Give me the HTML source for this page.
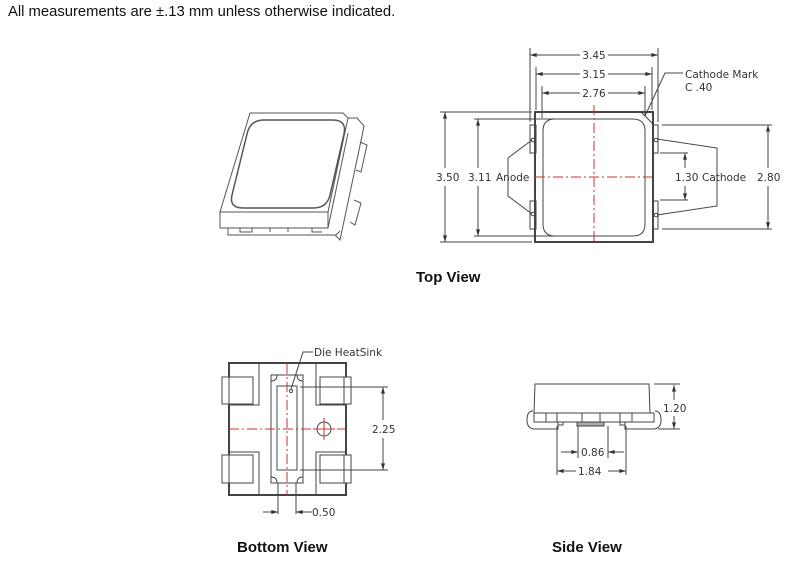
<!DOCTYPE html>
<html><head><meta charset="utf-8"><style>
html,body{margin:0;padding:0;background:#fff;width:787px;height:567px;overflow:hidden}
svg{display:block}
.t{font-family:"DejaVu Sans",sans-serif;font-size:10.5px;fill:#333}
.h{font-family:"Liberation Sans",sans-serif;font-weight:bold;font-size:15px;fill:#111}
</style></head><body>
<svg width="787" height="567" viewBox="0 0 787 567" xmlns="http://www.w3.org/2000/svg">
<defs>
<marker id="a" viewBox="0 0 10 6" refX="10" refY="3" markerWidth="8" markerHeight="4" orient="auto-start-reverse"><path d="M0,0L10,3L0,6z" fill="#333"/></marker>
</defs>
<text x="8" y="16" font-family="Liberation Sans,sans-serif" font-size="14.8" fill="#111">All measurements are ±.13 mm unless otherwise indicated.</text>

<!-- ISO VIEW -->
<g fill="none" stroke="#555" stroke-width="1">
<path d="M250,113 L343,113 L348,118 L328,212 L220,212 Z" fill="#fff"/>
<path d="M264,120 L333,120 Q347,120 344,134 L330,195 Q327,208 313,208 L243,208 Q229,208 232,195 L247,134 Q250,120 264,120 Z" stroke-width="1.5"/>
<path d="M220,212 L220,228 L328,228 L348,133"/>
<path d="M328,212 L328,228"/>
<path d="M348,118 L357,118 L364,126 L362,136 L340,240 L335,235"/>
<path d="M228,228 L228,235 L336,235 L340,231"/>
<path d="M360,142 L367,145 L361,172 L356,170"/>
<path d="M354,200 L361,203 L355,225 L350,222"/>
<path d="M240,228 L240,232 L252,232 L252,228 M270,228 L270,232 M288,228 L288,232 M312,228 L312,232 L322,232"/>
</g>

<!-- TOP VIEW -->
<g fill="none" stroke="#444" stroke-width="1">
<rect x="535" y="112" width="118" height="130" stroke-width="2"/>
<path d="M555,119 L633,119 Q645,119 645,131 L645,224 Q645,236 633,236 L555,236 Q543,236 543,224 L543,131 Q543,119 555,119 Z"/>
<path d="M641,112 L653,124"/>
<rect x="530" y="125" width="6" height="28"/><rect x="530" y="201" width="6" height="28"/>
<rect x="653" y="125" width="5" height="28"/><rect x="653" y="201" width="5" height="28"/>
<circle cx="533" cy="140" r="1.8"/><circle cx="533" cy="214" r="1.8"/>
<circle cx="656" cy="140" r="1.8"/><circle cx="656" cy="215" r="1.8"/>
<path d="M530,48 V122 M658,48 V122 M536,67 V110 M652,67 V110 M542,86 V118 M645,86 V116"/>
<line x1="530" y1="55" x2="658" y2="55" marker-start="url(#a)" marker-end="url(#a)"/>
<line x1="536" y1="74" x2="652" y2="74" marker-start="url(#a)" marker-end="url(#a)"/>
<line x1="542" y1="93" x2="645" y2="93" marker-start="url(#a)" marker-end="url(#a)"/>
<path d="M440,112 H532 M440,242 H532 M474,119 H555 M474,236 H555"/>
<line x1="445" y1="112" x2="445" y2="168" marker-start="url(#a)"/>
<line x1="445" y1="186" x2="445" y2="242" marker-end="url(#a)"/>
<line x1="478" y1="119" x2="478" y2="168" marker-start="url(#a)"/>
<line x1="478" y1="186" x2="478" y2="236" marker-end="url(#a)"/>
<path d="M532,140 L508,158 V196 L532,214"/>
<path d="M657,139 L717,148 V206 L657,215"/>
<path d="M662,125 H772 M662,229 H772 M660,153 H688 M660,200 H688"/>
<line x1="768" y1="125" x2="768" y2="168" marker-start="url(#a)"/>
<line x1="768" y1="186" x2="768" y2="229" marker-end="url(#a)"/>
<line x1="685" y1="153" x2="685" y2="168" marker-start="url(#a)"/>
<line x1="685" y1="186" x2="685" y2="200" marker-end="url(#a)"/>
<path d="M683,73 H665 L645,116"/>
</g>
<g stroke="#c33" stroke-width="1" stroke-dasharray="10,3,2,3" fill="none">
<line x1="594" y1="105" x2="594" y2="243"/>
<line x1="535" y1="177" x2="652" y2="177"/>
</g>
<g class="t" text-anchor="middle">
<rect x="580" y="49" width="28" height="12" fill="#fff"/><text x="594" y="59">3.45</text>
<rect x="580" y="68" width="28" height="12" fill="#fff"/><text x="594" y="78">3.15</text>
<rect x="580" y="87" width="28" height="12" fill="#fff"/><text x="594" y="97">2.76</text>
</g>
<g class="t">
<text x="685" y="78">Cathode Mark</text>
<text x="685" y="91">C .40</text>
<text x="436" y="181">3.50</text>
<text x="468" y="181">3.11</text>
<text x="496" y="181">Anode</text>
<text x="675" y="181">1.30</text>
<text x="702" y="181">Cathode</text>
<text x="757" y="181">2.80</text>
</g>
<text class="h" x="416" y="282">Top View</text>

<!-- BOTTOM VIEW -->
<g fill="none" stroke="#444" stroke-width="1">
<rect x="229" y="363" width="117" height="132" stroke-width="2"/>
<path d="M259,363 V405 H229 M259,495 V452 H229 M316,363 V405 H346 M316,495 V452 H346"/>
<rect x="222" y="377" width="31" height="27" fill="#fff"/><rect x="229" y="377" width="24" height="27"/>
<rect x="222" y="455" width="31" height="28" fill="#fff"/><rect x="229" y="455" width="24" height="28"/>
<rect x="320" y="377" width="31" height="27" fill="#fff"/><rect x="320" y="377" width="24" height="27"/>
<rect x="320" y="455" width="31" height="28" fill="#fff"/><rect x="320" y="455" width="24" height="28"/>
<rect x="271" y="375" width="32" height="108"/>
<rect x="277" y="386" width="20" height="84"/>
<path d="M271,381 Q277,381 277,375 M303,381 Q297,381 297,375 M271,477 Q277,477 277,483 M303,477 Q297,477 297,483"/>
<circle cx="324" cy="429" r="7"/>
<circle cx="291" cy="391" r="1.6"/>
<path d="M313,352 H303 L291,389"/>
<path d="M300,387 H388 M300,470 H388"/>
<line x1="383" y1="387" x2="383" y2="420" marker-start="url(#a)"/>
<line x1="383" y1="438" x2="383" y2="470" marker-end="url(#a)"/>
<path d="M278,483 V514 M296,483 V514"/>
<line x1="263" y1="512" x2="278" y2="512" marker-end="url(#a)"/>
<line x1="312" y1="512" x2="296" y2="512" marker-end="url(#a)"/>
</g>
<g stroke="#c33" stroke-width="1" stroke-dasharray="10,3,2,3" fill="none">
<line x1="287" y1="364" x2="287" y2="495"/>
<line x1="229" y1="429" x2="345" y2="429"/>
<line x1="324" y1="418" x2="324" y2="440" stroke-dasharray="none"/>
<line x1="313" y1="429" x2="335" y2="429" stroke-dasharray="none"/>
</g>
<g class="t">
<text x="314" y="356">Die HeatSink</text>
<text x="372" y="433">2.25</text>
<text x="312" y="516">0.50</text>
</g>
<text class="h" x="237" y="552">Bottom View</text>

<!-- SIDE VIEW -->
<g fill="none" stroke="#444" stroke-width="1">
<path d="M535,384 H649 L650,413 H534 Z"/>
<path d="M534,413 H654 V422 H534 Z"/>
<path d="M533,411 Q527,411 527,420 Q527,429 535,429 H558 V425 M655,411 Q661,411 661,420 Q661,429 653,429 H625 V425"/>
<path d="M546,413 V422 M557,413 V422 M582,413 V422 M600,413 V422 M620,413 V422 M632,413 V422"/>
<path d="M558,422 V425 H563 V422 M620,422 V425 H625 V422"/>
<rect x="577" y="422" width="27" height="4" fill="#aaa"/>
<path d="M654,384 H680 M658,429 H680"/>
<line x1="674" y1="385" x2="674" y2="400" marker-start="url(#a)"/>
<line x1="674" y1="416" x2="674" y2="429" marker-end="url(#a)"/>
<path d="M557,426 V475 M578,426 V458 M608,426 V458 M626,426 V475"/>
<line x1="561" y1="452" x2="578" y2="452" marker-end="url(#a)"/>
<line x1="624" y1="452" x2="608" y2="452" marker-end="url(#a)"/>
<line x1="557" y1="471" x2="576" y2="471" marker-start="url(#a)"/>
<line x1="608" y1="471" x2="626" y2="471" marker-end="url(#a)"/>
</g>
<g class="t">
<text x="663" y="412">1.20</text>
<text x="581" y="456">0.86</text>
<text x="578" y="475">1.84</text>
</g>
<text class="h" x="552" y="552">Side View</text>
</svg>
</body></html>
